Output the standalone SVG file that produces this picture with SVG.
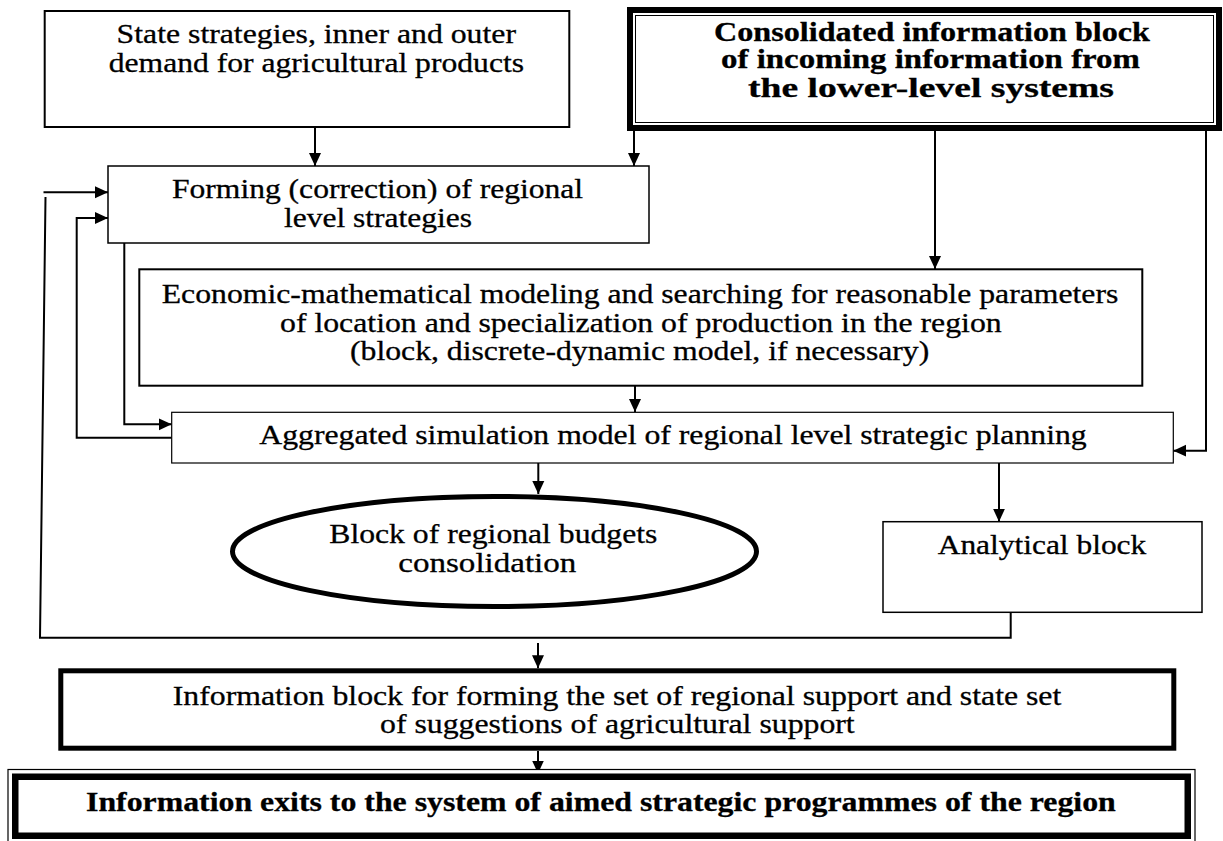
<svg xmlns="http://www.w3.org/2000/svg" width="1223" height="841" viewBox="0 0 1223 841">
<style>
.bg{fill:#ffffff}
.box{fill:#ffffff;stroke:#000000}
.t{font-family:"Liberation Serif","Times New Roman",serif;font-size:27.5px;fill:#000000;stroke:#000000;stroke-width:0.3}
.b{font-weight:bold}
.c{fill:none;stroke:#000000;stroke-width:2}
</style>
<defs>
<marker id="ah" markerUnits="userSpaceOnUse" markerWidth="13" markerHeight="13" refX="13" refY="6.5" orient="auto">
<path d="M0,0.5 L13,6.5 L0,12.5 Z" fill="#000000"/>
</marker>
</defs>
<rect class="bg" x="0" y="0" width="1223" height="841"/>

<g id="connectors">
<path class="c" d="M315,127 V166" marker-end="url(#ah)"/>
<path class="c" d="M634,131 V166" marker-end="url(#ah)"/>
<path class="c" d="M935,131 V269" marker-end="url(#ah)"/>
<path class="c" d="M1206,131 V450.7 H1173.3" marker-end="url(#ah)"/>
<path class="c" d="M635,386 V412" marker-end="url(#ah)"/>
<path class="c" d="M124.3,243 V424.3 H171.7" marker-end="url(#ah)"/>
<path class="c" d="M171.7,437.7 H76.7 V218 H108" marker-end="url(#ah)"/>
<path class="c" d="M538.3,463 V494" marker-end="url(#ah)"/>
<path class="c" d="M999,463 V521.7" marker-end="url(#ah)"/>
<path class="c" d="M1010.7,612.3 V637.7 H40 L45.5,197"/>
<path class="c" d="M43.5,192.3 H108" marker-end="url(#ah)"/>
<path class="c" d="M538,643 V668.3" marker-end="url(#ah)"/>
<path class="c" d="M538,751 V773.5" marker-end="url(#ah)"/>
</g>

<g id="state">
<rect class="box" x="44.7" y="11" width="524.6" height="116" stroke-width="2"/>
<text class="t" transform="translate(116.6,43) scale(1.153,1)" textLength="346.4" lengthAdjust="spacingAndGlyphs">State strategies, inner and outer</text>
<text class="t" transform="translate(108.7,72) scale(1.153,1)" textLength="360.2" lengthAdjust="spacingAndGlyphs">demand for agricultural products</text>
</g>

<g id="consolidated">
<rect class="box" x="630" y="10" width="589" height="118" stroke-width="6"/>
<rect class="box" x="635.5" y="15.5" width="578" height="107" stroke-width="1"/>
<text class="t b" transform="translate(714,40.7) scale(1.153,1)" textLength="378.1" lengthAdjust="spacingAndGlyphs">Consolidated information block</text>
<text class="t b" transform="translate(721,68.3) scale(1.153,1)" textLength="363.4" lengthAdjust="spacingAndGlyphs">of incoming information from</text>
<text class="t b" transform="translate(748,96.7) scale(1.153,1)" textLength="317.4" lengthAdjust="spacingAndGlyphs">the lower-level systems</text>
</g>

<g id="forming">
<rect class="box" x="108" y="166" width="541" height="77" stroke-width="1.5"/>
<text class="t" transform="translate(172,198) scale(1.153,1)" textLength="356.5" lengthAdjust="spacingAndGlyphs">Forming (correction) of regional</text>
<text class="t" transform="translate(284,227) scale(1.153,1)" textLength="163.1" lengthAdjust="spacingAndGlyphs">level strategies</text>
</g>

<g id="economic">
<rect class="box" x="139.3" y="269.3" width="1003" height="116.4" stroke-width="2"/>
<text class="t" transform="translate(161.7,302.7) scale(1.153,1)" textLength="829.7" lengthAdjust="spacingAndGlyphs">Economic-mathematical modeling and searching for reasonable parameters</text>
<text class="t" transform="translate(280,331.7) scale(1.153,1)" textLength="625.9" lengthAdjust="spacingAndGlyphs">of location and specialization of production in the region</text>
<text class="t" transform="translate(350,360) scale(1.153,1)" textLength="502.4" lengthAdjust="spacingAndGlyphs">(block, discrete-dynamic model, if necessary)</text>
</g>

<g id="aggregated">
<rect class="box" x="171.7" y="412.3" width="1001.6" height="50.7" stroke-width="1.2" stroke="#333333"/>
<text class="t" transform="translate(259.3,444) scale(1.153,1)" textLength="717.6" lengthAdjust="spacingAndGlyphs">Aggregated simulation model of regional level strategic planning</text>
</g>

<g id="budgets">
<ellipse class="box" cx="494.5" cy="551.5" rx="262" ry="55" stroke-width="5"/>
<text class="t" transform="translate(329.3,543.3) scale(1.153,1)" textLength="284.5" lengthAdjust="spacingAndGlyphs">Block of regional budgets</text>
<text class="t" transform="translate(398.3,571.7) scale(1.153,1)" textLength="154.4" lengthAdjust="spacingAndGlyphs">consolidation</text>
</g>

<g id="analytical">
<rect class="box" x="883" y="521.7" width="319" height="90.6" stroke-width="1.5"/>
<text class="t" transform="translate(937.7,554) scale(1.153,1)" textLength="180.9" lengthAdjust="spacingAndGlyphs">Analytical block</text>
</g>

<g id="support">
<rect class="box" x="60.8" y="670.8" width="1113" height="77.4" stroke-width="5"/>
<text class="t" transform="translate(172.7,705) scale(1.153,1)" textLength="770.7" lengthAdjust="spacingAndGlyphs">Information block for forming the set of regional support and state set</text>
<text class="t" transform="translate(380,733.3) scale(1.153,1)" textLength="411.7" lengthAdjust="spacingAndGlyphs">of suggestions of agricultural support</text>
</g>

<g id="exits">
<rect class="box" x="8" y="769.5" width="1187" height="80" stroke-width="1.2"/>
<rect class="box" x="15.25" y="776.75" width="1172.5" height="59" stroke-width="6.5"/>
<text class="t b" transform="translate(86,810.7) scale(1.153,1)" textLength="893.1" lengthAdjust="spacingAndGlyphs">Information exits to the system of aimed strategic programmes of the region</text>
</g>
</svg>
